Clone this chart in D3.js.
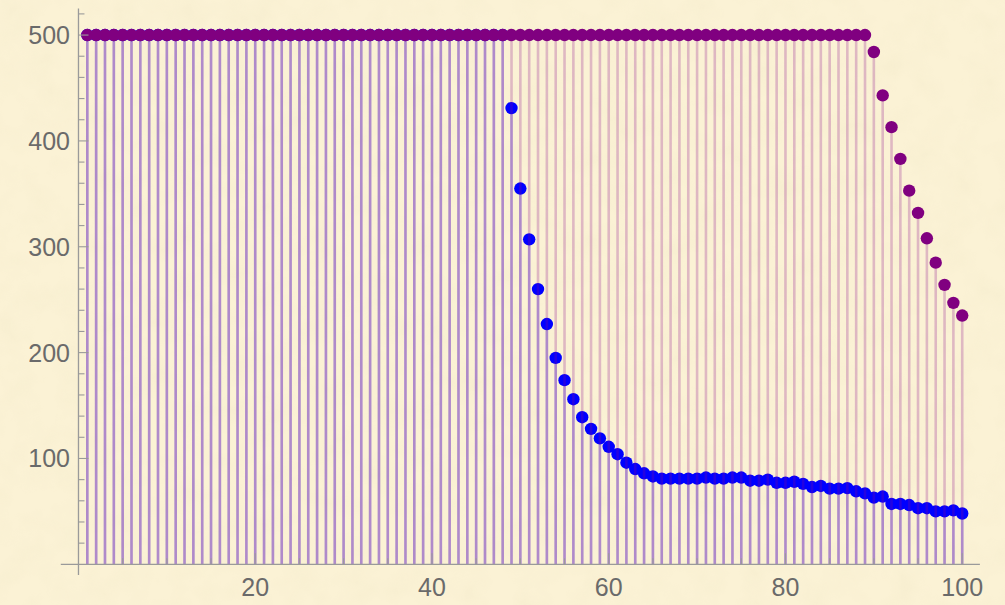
<!DOCTYPE html>
<html>
<head>
<meta charset="utf-8">
<script src="https://cdn.jsdelivr.net/npm/d3@7"></script>
<style>
  html, body { margin: 0; padding: 0; background: #fbf2d5; }
  svg { display: block; }
  text { font-family: "Liberation Sans", Arial, sans-serif; }
</style>
</head>
<body>
<div id="chart"></div>
<script>
var width = 1005,
    height = 605;

// series values, index 1..100
var purpleValues = [
  500,500,500,500,500,500,500,500,500,500,
  500,500,500,500,500,500,500,500,500,500,
  500,500,500,500,500,500,500,500,500,500,
  500,500,500,500,500,500,500,500,500,500,
  500,500,500,500,500,500,500,500,500,500,
  500,500,500,500,500,500,500,500,500,500,
  500,500,500,500,500,500,500,500,500,500,
  500,500,500,500,500,500,500,500,500,500,
  500,500,500,500,500,500,500,500,500,484,
  443,413,383,353,332,308,285,264,247,235
];

var blueValues = [
  500,500,500,500,500,500,500,500,500,500,
  500,500,500,500,500,500,500,500,500,500,
  500,500,500,500,500,500,500,500,500,500,
  500,500,500,500,500,500,500,500,500,500,
  500,500,500,500,500,500,500,500,431,355,
  307,260,227,195,174,156,139,128,119,111,
  104,96,90,86,83,81,81,81,81,81,
  82,81,81,82,82,79,79,80,77,77,
  78,76,73,74,71.5,71.5,72,69,67,63,
  64,57,57,56,53,53,50,50,51,48
];

var xMajorTicks = [20, 40, 60, 80, 100];
var yMajorTicks = [100, 200, 300, 400, 500];

var x = d3.scaleLinear().domain([-2, 102]).range([60.8, 979.9]);
var y = d3.scaleLinear().domain([-10, 525]).range([574.9, 8.6]);

var svg = d3.select("#chart").append("svg")
    .attr("width", width)
    .attr("height", height);

// parchment-ish background
var defs = svg.append("defs");
var f = defs.append("filter").attr("id", "paper")
    .attr("x", 0).attr("y", 0).attr("width", "100%").attr("height", "100%");
f.append("feTurbulence")
    .attr("type", "fractalNoise")
    .attr("baseFrequency", 0.035)
    .attr("numOctaves", 3)
    .attr("seed", 4);
f.append("feColorMatrix")
    .attr("type", "matrix")
    .attr("values", "0 0 0 0 0.85  0 0 0 0 0.78  0 0 0 0 0.55  0 0 0 -0.9 0.55");

svg.append("rect")
    .attr("width", width)
    .attr("height", height)
    .attr("fill", "#fbf2d5");
svg.append("rect")
    .attr("width", width)
    .attr("height", height)
    .attr("filter", "url(#paper)")
    .attr("opacity", 0.5);

var idx = d3.range(1, 101);

function stems(values, color, cls) {
  svg.append("g").attr("class", cls)
    .selectAll("line")
    .data(idx)
    .join("line")
      .attr("x1", function(d) { return x(d); })
      .attr("x2", function(d) { return x(d); })
      .attr("y1", y(0))
      .attr("y2", function(d) { return y(values[d - 1]); })
      .attr("stroke", color)
      .attr("stroke-opacity", 0.25)
      .attr("stroke-width", 2.6);
}

function dots(values, color, cls) {
  svg.append("g").attr("class", cls)
    .selectAll("circle")
    .data(idx)
    .join("circle")
      .attr("cx", function(d) { return x(d); })
      .attr("cy", function(d) { return y(values[d - 1]); })
      .attr("r", 6.2)
      .attr("fill", color);
}

stems(blueValues, "#0000ff", "blue-fill");
dots(blueValues, "#0000ff", "blue-pts");
stems(purpleValues, "#8a0a8a", "purple-fill");
dots(purpleValues, "#800080", "purple-pts");

// axes, Mathematica style: ticks pointing into the plot
var axisColor = "#9a9a9a",
    labelColor = "#6a6a6a";

var ax = svg.append("g").attr("class", "axes");

ax.append("line")
    .attr("x1", x(-2)).attr("x2", x(102))
    .attr("y1", y(0)).attr("y2", y(0))
    .attr("stroke", axisColor).attr("stroke-width", 1.3);
ax.append("line")
    .attr("x1", x(0)).attr("x2", x(0))
    .attr("y1", y(-10)).attr("y2", y(525))
    .attr("stroke", axisColor).attr("stroke-width", 1.3);

var xMinor = d3.range(5, 101, 5).filter(function(d) { return xMajorTicks.indexOf(d) < 0; });
var yMinor = d3.range(20, 521, 20).filter(function(d) { return yMajorTicks.indexOf(d) < 0; });

ax.selectAll("line.xt")
  .data(xMajorTicks.concat(xMinor))
  .join("line").attr("class", "xt")
    .attr("x1", function(d) { return x(d); })
    .attr("x2", function(d) { return x(d); })
    .attr("y1", y(0))
    .attr("y2", function(d) { return y(0) - (xMajorTicks.indexOf(d) >= 0 ? 11 : 6); })
    .attr("stroke", axisColor).attr("stroke-width", 1.1);

ax.selectAll("line.yt")
  .data(yMajorTicks.concat(yMinor))
  .join("line").attr("class", "yt")
    .attr("y1", function(d) { return y(d); })
    .attr("y2", function(d) { return y(d); })
    .attr("x1", x(0))
    .attr("x2", function(d) { return x(0) + (yMajorTicks.indexOf(d) >= 0 ? 10 : 6); })
    .attr("stroke", axisColor).attr("stroke-width", 1.1);

ax.selectAll("text.xl")
  .data(xMajorTicks)
  .join("text").attr("class", "xl")
    .attr("x", function(d) { return x(d); })
    .attr("y", 596)
    .attr("text-anchor", "middle")
    .attr("font-size", 25)
    .attr("fill", labelColor)
    .text(function(d) { return d; });

ax.selectAll("text.yl")
  .data(yMajorTicks)
  .join("text").attr("class", "yl")
    .attr("x", 70)
    .attr("y", function(d) { return y(d); })
    .attr("dy", "0.36em")
    .attr("text-anchor", "end")
    .attr("font-size", 25)
    .attr("fill", labelColor)
    .text(function(d) { return d; });
</script>
</body>
</html>
